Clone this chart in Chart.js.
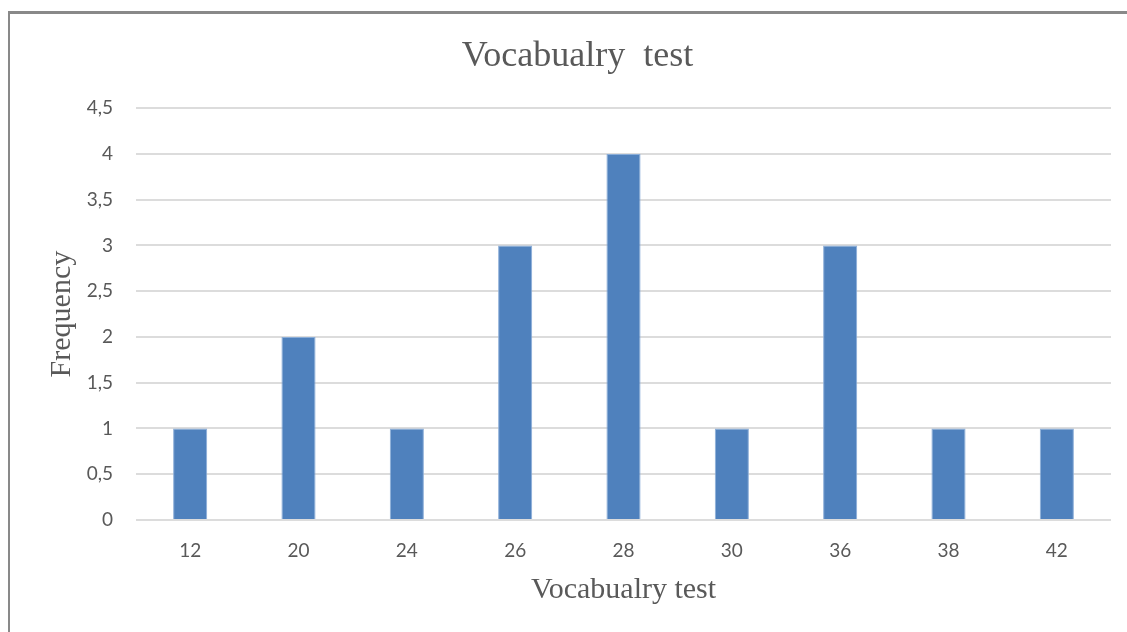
<!DOCTYPE html>
<html>
<head>
<meta charset="utf-8">
<script src="https://cdn.jsdelivr.net/npm/chart.js@4/dist/chart.umd.min.js"></script>
<style>
  html, body { margin: 0; padding: 0; background: #ffffff; overflow: hidden; }
  #wrap { position: relative; width: 1127px; height: 632px; background: #ffffff; }
  #frame { position: absolute; left: 8px; top: 11px; width: 1300px; height: 800px;
           border-left: 2px solid #898989; border-top: 3px solid #898989; box-sizing: border-box; }
  #c { position: absolute; left: 0; top: 0; }
</style>
</head>
<body>
<div id="wrap">
  <div id="frame"></div>
  <canvas id="c" width="1127" height="632"></canvas>
</div>
<script>
const chartTitle = 'Vocabualry  test';
const xAxisTitle = 'Vocabualry test';
const yAxisTitle = 'Frequency';
const categories = ['12', '20', '24', '26', '28', '30', '36', '38', '42'];
const frequencies = [1, 2, 1, 3, 4, 1, 3, 1, 1];
const yMin = 0;
const yMax = 4.5;
const yStep = 0.5;

const textColor = '#595959';

new Chart(document.getElementById('c'), {
  type: 'bar',
  data: {
    labels: categories,
    datasets: [{
      data: frequencies,
      backgroundColor: '#4F81BD',
      borderColor: '#8AADD8',
      borderWidth: 1,
      barPercentage: 0.315,
      categoryPercentage: 1.0
    }]
  },
  options: {
    responsive: false,
    animation: false,
    devicePixelRatio: 1,
    layout: { padding: { left: 44, right: 16, top: 35, bottom: 24 } },
    plugins: {
      legend: { display: false },
      tooltip: { enabled: false },
      title: {
        display: true,
        text: chartTitle,
        color: textColor,
        font: { family: 'Liberation Serif', size: 36, weight: 'normal' },
        padding: { top: 0, bottom: 30 }
      }
    },
    scales: {
      x: {
        grid: { display: false, drawTicks: false },
        border: { display: false },
        ticks: { color: textColor, font: { family: 'Lato', size: 19 }, padding: 19, maxRotation: 0 },
        title: {
          display: true,
          text: xAxisTitle,
          color: textColor,
          font: { family: 'Liberation Serif', size: 30, weight: 'normal' },
          padding: 0
        },
        afterFit: s => { s.height = 88; }
      },
      y: {
        min: yMin,
        max: yMax,
        grid: { color: '#dcdcdc', lineWidth: 2, drawTicks: false },
        border: { display: false },
        ticks: {
          stepSize: yStep,
          color: textColor,
          font: { family: 'Lato', size: 19 },
          padding: 23,
          callback: v => String(v).replace('.', ',')
        },
        title: {
          display: true,
          text: yAxisTitle,
          color: textColor,
          font: { family: 'Liberation Serif', size: 30, weight: 'normal' },
          padding: 0
        },
        afterFit: s => { s.width = 92; }
      }
    }
  }
});
</script>
</body>
</html>
